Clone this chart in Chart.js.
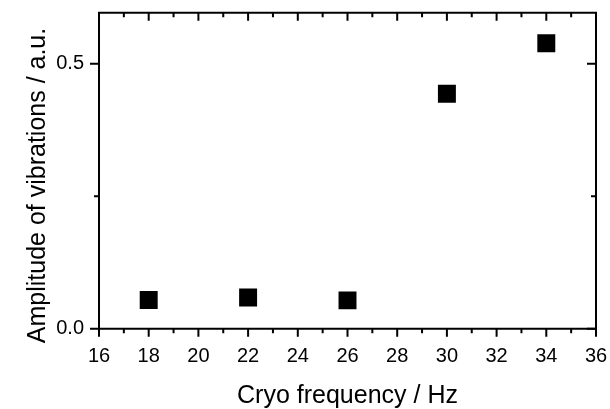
<!DOCTYPE html>
<html>
<head>
<meta charset="utf-8">
<script src="https://cdn.jsdelivr.net/npm/chart.js@4/dist/chart.umd.min.js"></script>
<style>
  html, body { margin: 0; padding: 0; background: #fff; }
  #wrap { width: 610px; height: 409px; position: relative; }
</style>
</head>
<body>
<div id="wrap"><canvas id="c" width="610" height="409"></canvas></div>
<script>
const frequencies = [18, 22, 26, 30, 34];
const amplitudes = [0.054, 0.059, 0.0535, 0.4435, 0.539];
const xMajorTicks = [16, 18, 20, 22, 24, 26, 28, 30, 32, 34, 36];
const xMinorTicks = [17, 19, 21, 23, 25, 27, 29, 31, 33, 35];
const yMajorTicks = [0.0, 0.5];
const yMinorTicks = [0.25];
const xTitle = 'Cryo frequency / Hz';
const yTitle = 'Amplitude of vibrations / a.u.';

const FONT = '"Liberation Sans", Arial, Helvetica, sans-serif';

const framePlugin = {
  id: 'frame',
  afterDraw(chart) {
    const ctx = chart.ctx;
    const a = chart.chartArea;
    const xs = chart.scales.x, ys = chart.scales.y;
    ctx.save();
    ctx.strokeStyle = '#000';
    ctx.lineWidth = 2;
    ctx.beginPath();
    ctx.rect(a.left, a.top, a.right - a.left, a.bottom - a.top);
    ctx.stroke();
    ctx.beginPath();
    const tick = (x1, y1, x2, y2) => { ctx.moveTo(x1, y1); ctx.lineTo(x2, y2); };
    xMajorTicks.forEach(v => {
      const px = xs.getPixelForValue(v);
      tick(px, a.bottom, px, a.bottom + 8);
      tick(px, a.top, px, a.top + 8);
    });
    xMinorTicks.forEach(v => {
      const px = xs.getPixelForValue(v);
      tick(px, a.bottom, px, a.bottom + 4.5);
      tick(px, a.top, px, a.top + 4.5);
    });
    yMajorTicks.forEach(v => {
      const py = ys.getPixelForValue(v);
      tick(a.left - 9, py, a.left, py);
      tick(a.right - 9, py, a.right, py);
    });
    yMinorTicks.forEach(v => {
      const py = ys.getPixelForValue(v);
      tick(a.left - 5, py, a.left, py);
      tick(a.right - 5, py, a.right, py);
    });
    ctx.stroke();

    ctx.fillStyle = '#000';
    ctx.font = '25px ' + FONT;
    ctx.textAlign = 'center';
    ctx.textBaseline = 'alphabetic';
    ctx.fillText(xTitle, (a.left + a.right) / 2, 403);
    ctx.translate(45, 185.5);
    ctx.rotate(-Math.PI / 2);
    ctx.fillText(yTitle, 0, 0);
    ctx.restore();
  }
};

function zeroPad(s) {
  s.paddingTop = 0; s.paddingBottom = 0; s.paddingLeft = 0; s.paddingRight = 0;
}

new Chart(document.getElementById('c'), {
  type: 'scatter',
  data: {
    datasets: [{
      data: frequencies.map((f, i) => ({ x: f, y: amplitudes[i] })),
      pointStyle: 'rect',
      pointRadius: 12.7,
      pointHoverRadius: 12.7,
      backgroundColor: '#000',
      borderColor: '#000',
      borderWidth: 0
    }]
  },
  options: {
    responsive: false,
    animation: false,
    devicePixelRatio: 1,
    layout: { padding: { left: 0, top: 12, right: 14, bottom: 0 } },
    plugins: { legend: { display: false }, tooltip: { enabled: false } },
    scales: {
      x: {
        type: 'linear',
        min: 16, max: 36,
        afterFit(s) { s.height = 80.3; zeroPad(s); },
        afterBuildTicks(s) { s.ticks = xMajorTicks.map(v => ({ value: v })); },
        grid: { display: false, drawTicks: false },
        border: { display: false },
        ticks: {
          padding: 16,
          color: '#000',
          font: { family: FONT, size: 20 },
          maxRotation: 0,
          autoSkip: false,
          callback: v => String(v)
        }
      },
      y: {
        type: 'linear',
        min: 0, max: 0.5966,
        afterFit(s) { s.width = 99; zeroPad(s); },
        afterBuildTicks(s) { s.ticks = yMajorTicks.map(v => ({ value: v })); },
        grid: { display: false, drawTicks: false },
        border: { display: false },
        ticks: {
          padding: 15,
          color: '#000',
          font: { family: FONT, size: 20 },
          autoSkip: false,
          callback: v => Number(v).toFixed(1)
        }
      }
    }
  },
  plugins: [framePlugin]
});
</script>
</body>
</html>
